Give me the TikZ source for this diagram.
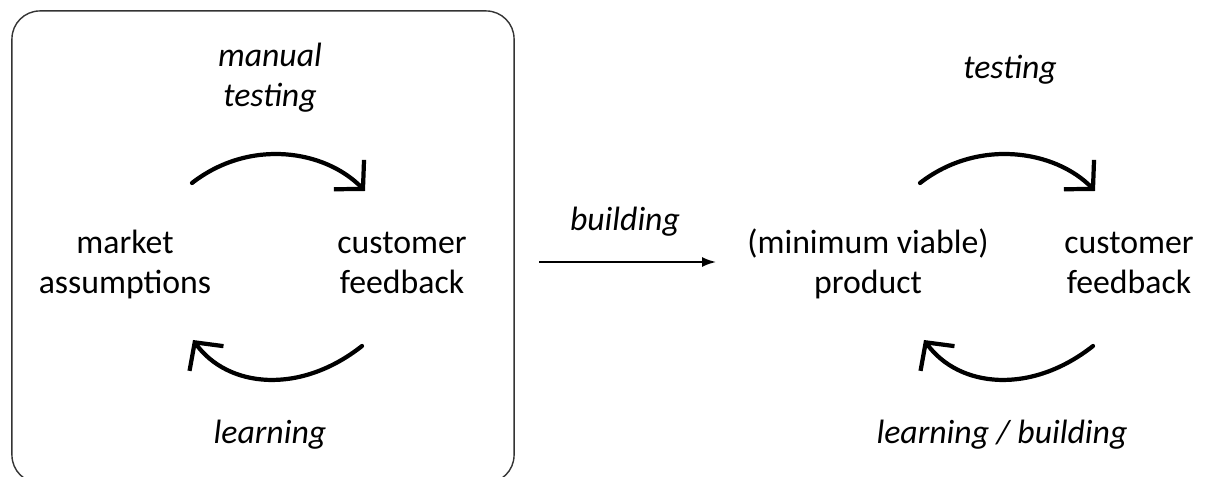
\documentclass[tikz,border=0pt]{standalone}
\usepackage{fontspec}
\setmainfont{Carlito}
\usetikzlibrary{arrows.meta,positioning,calc}
\tikzset{
    phase/.style={align=center, anchor=base, font=\fontsize{24}{29}\selectfont},
    action/.style={align=center, anchor=base, font=\fontsize{24}{29}\selectfont\itshape},
    frame/.style={draw=black!80, line width=1pt, rounded corners=0.7cm,
                  minimum width=12.55cm, minimum height=11.8cm},
    turn/.style={draw, line width=3pt, line cap=round,
                 -{Straight Barb[length=0.5cm, width=1.05cm]}},
    flow/.style={draw, line width=1.3pt, -{Latex[length=0.35cm, width=0.25cm]}},
}
\begin{document}
\begin{tikzpicture}[x=0.025cm, y=-0.025cm]
    \useasboundingbox (0,0) rectangle (1207,477);
    % left loop, before any product
    \node[frame] (lab) at (263,247) {};
    \node[phase] (assume) at (125,294) {market\\assumptions};
    \node[phase] (feedA)  at (402,294) {customer\\feedback};
    \node[action] (manual) at (270,107) {manual\\testing};
    \node[action] (learnA) at (270,443) {learning};
    \coordinate (a1) at (192,183);
    \coordinate (a2) at (365,191);
    \coordinate (a3) at (362,346);
    \coordinate (a4) at (193,340);
    \draw[turn] (a1) .. controls (250,138) and (325,150) .. (a2);
    \draw[turn] (a3) .. controls (300,395) and (228,388) .. (a4);
    % building step
    \node[action] (build) at (625,231) {building};
    \coordinate (b1) at (539,262);
    \coordinate (b2) at (716,262);
    \draw[flow] (b1) -- (b2);
    % right loop, with the product
    \node[phase] (mvp)   at (868,294)  {(minimum viable)\\product};
    \node[phase] (feedB) at (1129,294) {customer\\feedback};
    \node[action] (test)   at (1010,79)  {testing};
    \node[action] (learnB) at (1002,443) {learning / building};
    \coordinate (c1) at (920,183);
    \coordinate (c2) at (1095,191);
    \coordinate (c3) at (1093,346);
    \coordinate (c4) at (924,340);
    \draw[turn] (c1) .. controls (978,138) and (1055,150) .. (c2);
    \draw[turn] (c3) .. controls (1031,395) and (959,388) .. (c4);
\end{tikzpicture}
\end{document}
